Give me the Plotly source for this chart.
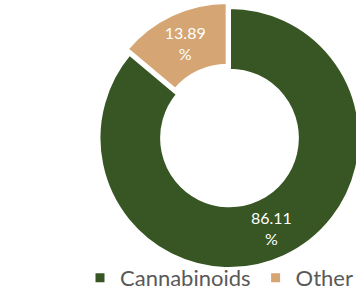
import plotly.graph_objects as go

categories = ["Cannabinoids", "Other"]
values = [86.11, 13.89]
labels_text = ["86.11<br>%", "13.89<br>%"]
colors = ["#375623", "#D5A573"]
pulls = [0, 0.042]

W, H = 366, 300

fig = go.Figure(go.Pie(
    labels=categories,
    values=values,
    text=labels_text,
    textinfo="text",
    textposition="inside",
    insidetextorientation="horizontal",
    hole=0.52,
    pull=pulls,
    sort=False,
    direction="clockwise",
    rotation=0,
    marker=dict(colors=colors, line=dict(color="white", width=3)),
    textfont=dict(family="Lato", size=16, color="white"),
    domain=dict(x=[93.5 / W, 365.5 / W], y=[(H - 274) / H, (H - 2) / H]),
    hoverinfo="label+percent",
))

fig.update_layout(
    width=W, height=H,
    margin=dict(l=0, r=0, t=0, b=0),
    paper_bgcolor="white",
    showlegend=True,
    legend=dict(
        orientation="h",
        x=358 / W, xanchor="right",
        y=(H - 278) / H, yanchor="middle",
        font=dict(family="Lato", size=22, color="#595959"),
        bgcolor="rgba(0,0,0,0)",
    ),
)

fig.write_html(
    "out.html",
    config={"displayModeBar": False},
    post_script="document.body.style.margin='0';document.body.style.overflow='hidden';",
)
